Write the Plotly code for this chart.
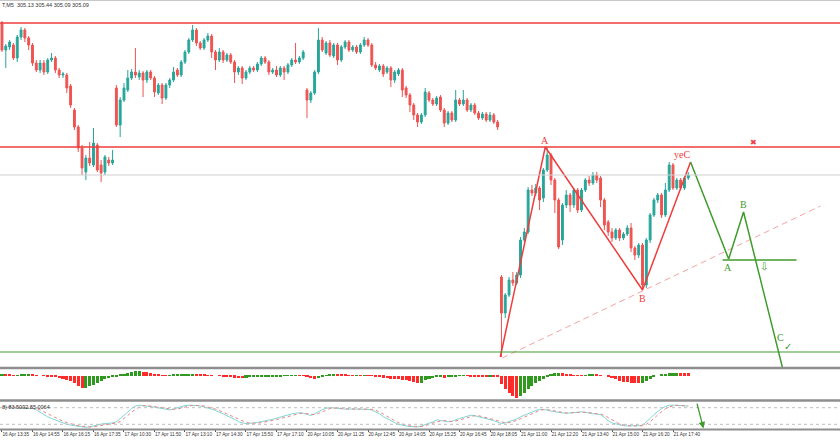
import plotly.graph_objects as go

# M5 candles, index based like the terminal (no time gaps)
open_ = [306.77,306.50,306.53,306.55,306.42,306.63,306.70,306.62,306.55,306.37,
         306.30,306.37,306.28,306.40,306.42,306.30,306.25,306.25,306.14,305.90,
         305.73,305.52,305.28,305.42,305.35,305.55,305.35,305.28,305.40,305.37,
         306.12,305.75,306.00,306.10,306.22,306.28,306.23,306.27,306.20,306.28,
         306.22,306.07,306.15,306.02,306.15,306.20,306.30,306.25,306.38,306.48,
         306.60,306.70,306.57,306.52,306.60,306.64,306.48,306.40,306.48,306.40,
         306.45,306.38,306.28,306.32,306.22,306.28,306.32,306.30,306.36,306.42,
         306.38,306.28,306.30,306.25,306.32,306.28,306.35,306.40,306.38,306.42,
         306.10,306.00,306.07,306.28,306.60,306.47,306.57,306.44,306.55,306.40,
         306.53,306.58,306.50,306.53,306.48,306.55,306.60,306.55,306.35,306.30,
         306.34,306.28,306.32,306.20,306.26,306.30,306.12,306.05,305.95,305.85,
         305.78,305.85,306.07,306.00,305.96,306.03,305.90,305.77,305.87,305.80,
         306.00,305.96,306.00,305.90,305.95,305.87,305.82,305.86,305.80,305.85,
         305.78,304.23,303.87,304.05,304.20,304.17,304.25,304.60,304.68,305.10,
         305.07,305.12,305.02,305.30,305.45,305.20,305.00,304.60,304.95,305.05,
         304.95,305.10,304.90,305.10,305.20,305.17,305.25,305.22,305.00,304.78,
         304.68,304.62,304.70,304.62,304.66,304.72,304.52,304.45,304.55,304.15,
         304.60,304.85,305.00,305.05,304.85,305.10,305.35,305.12,305.20,305.12,305.22]
high_ = [306.79,306.56,306.60,306.57,306.65,306.73,306.72,306.64,306.57,306.40,
         306.40,306.40,306.42,306.47,306.44,306.32,306.28,306.27,306.16,305.92,
         305.75,305.55,305.45,305.58,305.72,305.57,305.40,305.45,305.43,305.50,
         306.15,306.03,306.17,306.30,306.31,306.52,306.30,306.29,306.30,306.30,
         306.24,306.17,306.17,306.17,306.22,306.33,306.32,306.40,306.50,306.62,
         306.75,306.72,306.59,306.62,306.67,306.66,306.50,306.52,306.50,306.47,
         306.47,306.40,306.34,306.34,306.30,306.34,306.34,306.38,306.44,306.44,
         306.40,306.32,306.34,306.34,306.34,306.37,306.42,306.57,306.44,306.50,
         306.12,306.09,306.30,306.72,306.63,306.59,306.60,306.57,306.57,306.55,
         306.60,306.60,306.55,306.55,306.57,306.63,306.62,306.57,306.38,306.36,
         306.36,306.34,306.34,306.30,306.32,306.32,306.14,306.07,305.97,305.87,
         305.87,306.12,306.09,306.02,306.04,306.05,305.92,305.89,305.89,306.10,
         306.02,306.10,306.02,305.97,305.97,305.89,305.88,305.88,305.88,305.87,
         305.80,304.25,304.07,304.23,304.28,304.28,304.63,304.72,305.13,305.15,
         305.16,305.14,305.32,305.53,305.47,305.22,305.02,304.97,305.10,305.07,
         305.12,305.12,305.12,305.22,305.24,305.28,305.28,305.24,305.02,304.80,
         304.72,304.72,304.72,304.68,304.75,304.77,304.54,304.57,304.57,304.62,
         304.87,305.02,305.07,305.07,305.17,305.38,305.37,305.22,305.22,305.24,305.28]
low_ = [306.48,306.32,306.50,306.40,306.38,306.60,306.58,306.50,306.34,306.28,
        306.27,306.25,306.26,306.38,306.27,306.22,306.22,306.07,305.92,305.70,
        305.48,305.25,305.20,305.34,305.33,305.28,305.18,305.25,305.34,305.35,
        305.73,305.63,305.98,306.08,306.20,306.22,306.20,306.03,306.17,306.20,
        306.03,306.05,305.96,306.00,306.12,306.18,306.23,306.23,306.36,306.46,
        306.58,306.54,306.50,306.50,306.58,306.42,306.30,306.38,306.37,306.38,
        306.36,306.17,306.25,306.16,306.20,306.26,306.28,306.28,306.34,306.36,
        306.25,306.26,306.23,306.23,306.20,306.26,306.33,306.36,306.36,306.40,
        305.82,305.97,306.05,306.26,306.48,306.45,306.43,306.42,306.35,306.38,
        306.51,306.48,306.48,306.46,306.46,306.53,306.53,306.33,306.30,306.28,
        306.23,306.26,306.13,306.17,306.24,306.03,306.02,305.88,305.80,305.73,
        305.76,305.83,305.98,305.94,305.94,305.88,305.73,305.75,305.78,305.78,
        305.94,305.94,305.88,305.88,305.85,305.80,305.80,305.78,305.78,305.76,
        305.70,303.43,303.82,304.03,304.14,304.15,304.22,304.58,304.66,305.04,
        305.04,304.90,304.98,305.28,305.15,304.87,304.51,304.55,304.92,304.88,
        304.92,304.87,304.88,305.08,305.14,305.15,305.17,304.93,304.70,304.64,
        304.58,304.60,304.59,304.60,304.64,304.48,304.40,304.42,304.10,304.12,
        304.57,304.83,304.97,304.82,304.83,305.08,305.10,305.10,305.10,305.10,305.20]
close_ = [306.50,306.54,306.58,306.42,306.63,306.70,306.62,306.55,306.37,306.30,
          306.37,306.28,306.40,306.42,306.30,306.25,306.26,306.12,305.95,305.73,
          305.52,305.32,305.42,305.37,305.57,305.30,305.27,305.43,305.37,305.40,
          305.75,306.00,306.12,306.22,306.28,306.25,306.27,306.20,306.28,306.22,
          306.08,306.15,306.02,306.15,306.20,306.28,306.25,306.38,306.48,306.60,
          306.70,306.57,306.52,306.60,306.64,306.48,306.40,306.48,306.40,306.45,
          306.38,306.28,306.32,306.22,306.28,306.32,306.30,306.36,306.42,306.38,
          306.28,306.30,306.25,306.32,306.28,306.35,306.40,306.38,306.42,306.48,
          306.00,306.07,306.28,306.60,306.50,306.57,306.45,306.55,306.40,306.53,
          306.58,306.50,306.53,306.48,306.55,306.60,306.55,306.35,306.32,306.34,
          306.26,306.32,306.20,306.28,306.30,306.10,306.05,305.95,305.85,305.78,
          305.85,306.08,306.00,305.96,306.02,305.90,305.77,305.87,305.80,306.00,
          305.96,306.00,305.90,305.95,305.87,305.82,305.86,305.80,305.85,305.78,
          305.73,303.87,304.05,304.20,304.17,304.25,304.60,304.68,305.10,305.07,
          305.12,305.00,305.30,305.45,305.20,305.00,304.53,304.95,305.05,304.95,
          305.10,304.90,305.10,305.20,305.17,305.25,305.20,305.00,304.75,304.68,
          304.62,304.70,304.62,304.66,304.72,304.52,304.45,304.55,304.15,304.60,
          304.85,305.00,305.05,304.85,305.10,305.35,305.12,305.20,305.12,305.22,305.25]

# OsMA histogram
osma = [1.5,1.2,1.0,0.5,0.5,0.8,1.2,1.5,1.0,0.3,
        0,-0.3,-0.6,-1.0,-1.5,-2.2,-3.0,-4.0,-5.5,-7.5,
        -10,-12.5,-12,-10.5,-9,-7,-5,-3.5,-2.5,-1.5,
        -0.5,1,2,3,4,4.5,4.7,4.2,3.5,2.8,
        2,1.2,0.6,0.4,0.6,0.9,1.2,1.4,1.5,1.6,
        1.7,1.5,1.2,0.8,0.5,0.2,0,-0.2,-0.5,-1.0,
        -1.5,-2,-2.3,-2.5,-2,-1.6,-1.3,-1.2,-1.0,-1.0,
        -0.9,-0.8,-0.6,-0.4,-0.2,0.2,0.4,0.5,0.4,0.2,
        -1,-2.5,-3.5,-2.5,-0.8,0.5,1.5,1.6,1.3,1.0,
        0.8,0.6,0.5,0.5,0.4,0.4,0.3,0.1,-0.4,-1.2,
        -1.8,-2.2,-2.8,-3,-3.2,-3.8,-4.5,-5.5,-6.5,-7.2,
        -6.8,-4.5,-3,-2.2,-1.6,-1.5,-1.8,-1.5,-1.0,-0.5,
        -0.3,-0.2,-0.3,-0.4,-0.5,-0.6,-0.7,-0.8,-0.8,-0.9,
        -1.0,-8,-13,-17,-20,-22.5,-20,-17,-13,-10,
        -7.5,-5.5,-3,-0.5,1.5,2.5,3,2.6,2,1.2,
        0.6,0.3,0.2,0.5,0.8,1.0,0.9,0.6,0,-1.2,
        -2.5,-3.5,-5,-6,-6.5,-7,-7.2,-7.5,-7,-5.5,
        -3.5,-1.5,0,1.2,1.8,2.5,3,3,2.8,2.7,2.6]

# Stochastic main / signal
stoch_k = [82,82,81,80,80,79,78,78,77,72,
           63,55,47,41,36,30,24,20,17,15,
           12,10,9,11,13,17,21,22,23,25,
           29,40,52,64,78,86,89,88,86,84,
           82,79,77,74,72,75,80,85,88,89,
           89,88,86,83,79,75,70,65,58,51,
           45,38,30,25,23,23,25,27,29,32,
           35,38,42,45,50,55,58,60,62,60,
           55,52,58,67,73,78,80,79,77,75,
           75,75,76,75,75,75,74,72,66,58,
           48,40,32,26,20,16,14,12,11,11,
           14,20,24,28,36,34,31,29,31,37,
           41,45,50,53,51,48,45,41,37,33,
           28,23,25,29,33,39,47,53,60,66,
           70,74,74,72,68,65,63,61,60,61,
           63,65,65,63,60,58,57,55,45,33,
           25,21,17,15,14,14,13,15,17,28,
           41,55,67,77,84,89,89,88,87,86,86]
stoch_d = [84,84,83,82,81,80,80,79,79,77,
           72,65,57,49,42,36,31,26,22,18,
           15,13,11,10,11,13,16,19,21,23,
           25,30,40,52,64,75,83,87,88,86,
           84,82,79,77,75,74,75,79,83,86,
           88,89,88,86,83,79,75,70,64,58,
           52,45,38,32,27,24,23,24,26,28,
           31,34,37,41,44,49,53,57,59,60,
           59,56,55,59,65,72,77,79,79,78,
           76,75,75,75,75,75,75,74,71,65,
           57,49,40,33,26,21,17,14,12,11,
           12,15,19,24,29,32,34,32,30,32,
           36,41,45,49,51,51,48,45,41,37,
           33,28,25,26,29,34,40,46,53,60,
           65,70,73,73,71,68,65,63,61,61,
           61,63,64,64,63,60,58,57,52,44,
           34,26,21,18,15,14,14,14,15,20,
           29,41,54,66,76,83,87,89,88,87,86]

time_labels = ["16 Apr 13:35", "16 Apr 14:55", "16 Apr 16:15", "16 Apr 17:35",
               "17 Apr 10:30", "17 Apr 11:50", "17 Apr 13:10", "17 Apr 14:30",
               "17 Apr 15:50", "17 Apr 17:10", "20 Apr 10:05", "20 Apr 11:25",
               "20 Apr 12:45", "20 Apr 14:05", "20 Apr 15:25", "20 Apr 16:45",
               "20 Apr 18:05", "21 Apr 11:00", "21 Apr 12:20", "21 Apr 13:40",
               "21 Apr 15:00", "21 Apr 16:20", "21 Apr 17:40"]
label_step = 8

# drawn objects (bar index, price)
red_levels = [306.77, 305.53]
bid_level = 305.25
green_level = 303.48
red_wave_x = [130.7, 142.5, 168.0, 180.6]
red_wave_y = [303.43, 305.53, 304.10, 305.38]
green_wave_x = [180.6, 190.6, 194.5, 205.2]
green_wave_y = [305.38, 304.41, 304.88, 303.25]
green_seg_x = [189.0, 208.4]
green_seg_y = [304.40, 304.40]
trend_x = [131.2, 214.7]
trend_y = [303.42, 304.94]

idx = list(range(len(close_)))
GREEN_C = '#26a69a'
RED_C = '#ef5350'
RED = '#f03c3c'
GRN = '#3f9b2c'

fig = go.Figure()

fig.add_trace(go.Candlestick(x=idx, open=open_, high=high_, low=low_, close=close_,
                             increasing=dict(line=dict(color=GREEN_C, width=1), fillcolor=GREEN_C),
                             decreasing=dict(line=dict(color=RED_C, width=1), fillcolor=RED_C),
                             showlegend=False, hoverinfo='skip'))

# horizontal levels
for lv in red_levels:
    fig.add_hline(y=lv, line=dict(color=RED, width=1.5))
fig.add_hline(y=bid_level, line=dict(color='#cfcfcf', width=1))
fig.add_hline(y=green_level, line=dict(color=GRN, width=1.2))

fig.add_trace(go.Scatter(x=trend_x, y=trend_y, mode='lines',
                         line=dict(color='#f4a3a3', width=1, dash='6px,4px'), showlegend=False))
fig.add_trace(go.Scatter(x=red_wave_x, y=red_wave_y, mode='lines',
                         line=dict(color=RED, width=1.5), showlegend=False))
fig.add_trace(go.Scatter(x=green_wave_x, y=green_wave_y, mode='lines',
                         line=dict(color=GRN, width=1.5), showlegend=False))
fig.add_trace(go.Scatter(x=green_seg_x, y=green_seg_y, mode='lines',
                         line=dict(color=GRN, width=1.5), showlegend=False))

# osma histogram, coloured by direction
bar_cols = ['#2f9a1f' if i == 0 or osma[i] >= osma[i - 1] else '#ff2a2a' for i in idx]
fig.add_trace(go.Bar(x=idx, y=osma, marker=dict(color=bar_cols, line=dict(width=0)),
                     width=0.8, yaxis='y2', showlegend=False))

fig.add_trace(go.Scatter(x=idx, y=stoch_k, mode='lines', yaxis='y3',
                         line=dict(color='#7fd6d6', width=1), showlegend=False))
fig.add_trace(go.Scatter(x=idx, y=stoch_d, mode='lines', yaxis='y3',
                         line=dict(color='#f08080', width=1, dash='dot'), showlegend=False))

serif = 'Liberation Serif'
def tag(x, y, t, c, size=10):
    fig.add_annotation(x=x, y=y, text=t, showarrow=False, font=dict(family=serif, size=size, color=c))

tag(142.5, 305.60, 'A', RED)
tag(168.0, 304.02, 'B', RED)
tag(178.4, 305.46, 'yeC', RED)
tag(190.5, 304.33, 'A', GRN)
tag(194.5, 304.96, 'B', GRN)
tag(204.3, 303.63, 'C', GRN)
fig.add_annotation(x=199.8, y=304.34, text='⇩', showarrow=False,
                   font=dict(family='DejaVu Sans', size=10, color=GRN))
fig.add_annotation(x=206.2, y=303.54, text='✓', showarrow=False,
                   font=dict(family='DejaVu Sans', size=10, color=GRN))
fig.add_annotation(x=197.1, y=305.58, text='✖', showarrow=False,
                   font=dict(family='DejaVu Sans', size=8, color=RED))

# arrow in the stochastic window
fig.add_annotation(x=184.0, y=5, ax=182.2, ay=100, xref='x', yref='y3', axref='x', ayref='y3',
                   showarrow=True, arrowhead=2, arrowwidth=1.3, arrowcolor=GRN, text='')

small = dict(family='Liberation Sans', size=5.5, color='#333333')
tick_font = dict(family='Liberation Sans', size=4.7, color='#333333')
fig.add_annotation(x=0, y=1, xref='paper', yref='paper', xanchor='left', yanchor='top',
                   text='T,M5  305.13 305.44 305.09 305.09', showarrow=False, font=small)
fig.add_annotation(x=0, y=0.064, xref='paper', yref='paper', xanchor='left', yanchor='top',
                   text='3) 83.5092 85.0064', showarrow=False, font=small)

# stochastic levels
for lv in [80, 20]:
    fig.add_shape(type='line', xref='paper', yref='y3', x0=0, x1=1, y0=lv, y1=lv,
                  line=dict(color='#bdbdbd', width=1, dash='dot'))

# window separators
for py, w, c in [(0.9988, 1, '#c8c8c8'), (0.1442, 2.5, '#8e8e8e'),
                 (0.0686, 2.5, '#8e8e8e'), (0.0012, 2, '#8e8e8e')]:
    fig.add_shape(type='line', xref='paper', yref='paper', x0=0, x1=1, y0=py, y1=py,
                  line=dict(color=c, width=w))

fig.update_layout(
    width=840, height=440,
    margin=dict(l=0, r=0, t=0, b=10, autoexpand=False),
    paper_bgcolor='white', plot_bgcolor='white',
    bargap=0,
    xaxis=dict(range=[-0.52, 219.8], anchor='y3', showgrid=False, zeroline=False,
               rangeslider=dict(visible=False), automargin=False,
               tickvals=[i * label_step for i in range(len(time_labels))], ticktext=time_labels,
               tickangle=0, ticks='outside', ticklen=2, tickcolor='#555555',
               ticklabelposition='outside right', tickfont=tick_font),
    yaxis=dict(domain=[0.1465, 1], range=[303.33, 307.00], showgrid=False, zeroline=False,
               showticklabels=False, automargin=False),
    yaxis2=dict(domain=[0.0721, 0.1419], range=[-23.3, 6.7], showgrid=False, zeroline=False,
                showticklabels=False, automargin=False),
    yaxis3=dict(domain=[0.0023, 0.0651], range=[3, 100.6], showgrid=False, zeroline=False,
                showticklabels=False, automargin=False),
)

# page body has a default margin; drop it so the chart sits at the window corner
fig.write_html('out.html', config={'displayModeBar': False},
               post_script="document.body.style.margin='0';")
